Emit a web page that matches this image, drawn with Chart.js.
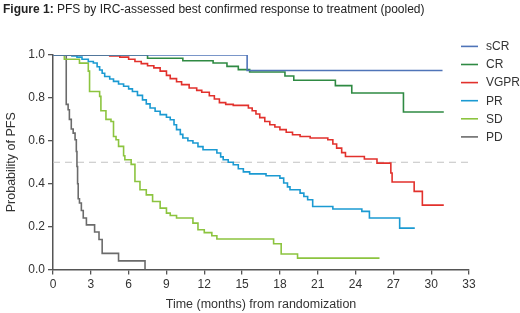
<!DOCTYPE html>
<html>
<head>
<meta charset="utf-8">
<script src="https://cdn.jsdelivr.net/npm/chart.js@4/dist/chart.umd.min.js"></script>
<style>
  html, body { margin: 0; padding: 0; background: #fff; }
  #wrap { position: relative; width: 520px; height: 313px; }
  #title {
    position: absolute; left: 3px; top: 2px;
    font: 12px "Liberation Sans", Arial, sans-serif; color: #222;
    white-space: nowrap;
  }
  canvas { position: absolute; left: 0; top: 0; }
</style>
</head>
<body>
<div id="wrap">
  <canvas id="pfsChart" width="520" height="313"></canvas>
  <div id="title"><b>Figure 1:</b> PFS by IRC-assessed best confirmed response to treatment (pooled)</div>
</div>
<script>
// Series labels and colours
const seriesLabels = ['sCR', 'CR', 'VGPR', 'PR', 'SD', 'PD']
const seriesColors = ['#4f74b8', '#2f8a43', '#e2312c', '#1b9ad2', '#8cc43f', '#6b6b6b']

// Kaplan-Meier steps (months, probability)
const sCRTimes = [0, 15.4, 30.9]
const sCRSurv = [1, 0.928, 0.928]

const crTimes = [0, 7.5, 10.3, 12.7, 13.8, 14.7, 15.6, 18.4, 19.1, 22.4, 23.7, 27.8, 31.0]
const crSurv = [1, 0.985, 0.973, 0.963, 0.947, 0.932, 0.921, 0.902, 0.882, 0.857, 0.823, 0.734, 0.734]

const vgprTimes = [0, 4.5, 5.3, 6.0, 6.5, 7.0, 7.5, 8.0, 8.5, 9.0, 9.3, 9.8, 10.2, 10.8, 11.4, 11.8, 12.4, 12.8, 13.2, 13.7, 14.3, 15.5, 15.8, 16.1, 16.4, 16.8, 17.2, 17.6, 18.0, 18.5, 19.0, 19.6, 20.4, 21.8, 22.2, 22.5, 22.9, 23.2, 24.7, 25.7, 26.8, 26.9, 28.65, 29.3, 31.0]
const vgprSurv = [1, 0.995, 0.99, 0.98, 0.97, 0.96, 0.95, 0.94, 0.925, 0.905, 0.89, 0.875, 0.862, 0.846, 0.835, 0.826, 0.81, 0.795, 0.778, 0.77, 0.765, 0.753, 0.74, 0.725, 0.708, 0.69, 0.675, 0.664, 0.652, 0.64, 0.628, 0.62, 0.613, 0.605, 0.585, 0.566, 0.545, 0.527, 0.515, 0.496, 0.45, 0.408, 0.364, 0.3, 0.3]

const prTimes = [0, 1.5, 1.9, 2.3, 2.8, 3.2, 3.5, 3.7, 3.9, 4.1, 4.5, 4.8, 5.2, 5.6, 6.0, 6.3, 6.7, 7.1, 7.4, 7.7, 8.1, 8.5, 9.0, 9.3, 9.6, 9.8, 10.1, 10.3, 10.7, 11.1, 11.5, 11.9, 13.0, 13.3, 13.5, 13.9, 14.3, 14.7, 15.1, 15.6, 16.9, 18.0, 18.3, 18.6, 18.8, 19.6, 19.9, 20.2, 20.6, 22.2, 24.5, 25.1, 27.5, 28.7]
const prSurv = [1, 0.995, 0.99, 0.98, 0.97, 0.963, 0.945, 0.93, 0.915, 0.9, 0.888, 0.877, 0.865, 0.854, 0.842, 0.83, 0.812, 0.791, 0.772, 0.753, 0.738, 0.722, 0.71, 0.698, 0.675, 0.652, 0.63, 0.613, 0.6, 0.59, 0.573, 0.558, 0.543, 0.525, 0.512, 0.5, 0.488, 0.47, 0.455, 0.446, 0.437, 0.426, 0.403, 0.385, 0.372, 0.356, 0.34, 0.325, 0.294, 0.282, 0.271, 0.24, 0.193, 0.193]

const sdTimes = [0, 0.9, 2.1, 2.8, 2.9, 3.7, 3.8, 4.2, 4.6, 4.8, 5.0, 5.2, 5.6, 5.7, 6.2, 6.5, 6.9, 7.4, 7.9, 8.5, 9.0, 9.3, 9.8, 11.1, 11.5, 12.0, 12.6, 13.0, 17.5, 18.1, 19.4, 25.9]
const sdSurv = [1, 0.98, 0.962, 0.925, 0.83, 0.807, 0.74, 0.7, 0.69, 0.62, 0.605, 0.574, 0.53, 0.512, 0.49, 0.41, 0.372, 0.348, 0.317, 0.286, 0.263, 0.252, 0.24, 0.216, 0.185, 0.172, 0.157, 0.142, 0.12, 0.072, 0.053, 0.053]

const pdTimes = [0, 1.05, 1.2, 1.3, 1.45, 1.6, 1.75, 1.85, 1.9, 1.95, 2.0, 2.1, 2.25, 2.4, 2.65, 3.3, 3.65, 3.9, 5.2, 7.3]
const pdSurv = [1, 0.77, 0.745, 0.7, 0.655, 0.636, 0.605, 0.55, 0.48, 0.4, 0.33, 0.31, 0.275, 0.24, 0.208, 0.175, 0.14, 0.075, 0.04, 0]

// Median reference line and axis ticks
const medianLevel = 0.5
const xTickValues = [0, 3, 6, 9, 12, 15, 18, 21, 24, 27, 30, 33]
const yTickValues = [0, 0.2, 0.4, 0.6, 0.8, 1.0]

const seriesTimes = [sCRTimes, crTimes, vgprTimes, prTimes, sdTimes, pdTimes]
const seriesSurv = [sCRSurv, crSurv, vgprSurv, prSurv, sdSurv, pdSurv]

const toPoints = (ts, ss) => ts.map((t, i) => ({ x: t, y: ss[i] }))

const datasets = seriesLabels.map((label, i) => ({
    label,
    data: toPoints(seriesTimes[i], seriesSurv[i]),
    borderColor: seriesColors[i],
    borderWidth: 1.6,
    pointRadius: 0,
    stepped: 'before',
    fill: false,
}))

datasets.push({
    label: 'median',
    data: [
        { x: xTickValues[0], y: medianLevel },
        { x: xTickValues[xTickValues.length - 1], y: medianLevel },
    ],
    borderColor: '#c2c2c2',
    borderWidth: 1.2,
    borderDash: [7, 5],
    pointRadius: 0,
})

const axisColor = '#555'
const textColor = '#333'
const fontFamily = '"Liberation Sans", Arial, sans-serif'

// Legend drawn at the top right, overlapping the plot like the original
const sideLegend = {
    id: 'sideLegend',
    afterDraw(chart) {
        const { ctx, chartArea } = chart
        const x0 = chartArea.right - 8
        const y0 = chartArea.top - 8.6
        ctx.save()
        ctx.font = '12px ' + fontFamily
        ctx.textBaseline = 'middle'
        seriesLabels.forEach((label, i) => {
            const y = y0 + i * 18.1
            ctx.strokeStyle = seriesColors[i]
            ctx.lineWidth = 1.6
            ctx.beginPath()
            ctx.moveTo(x0, y)
            ctx.lineTo(x0 + 17, y)
            ctx.stroke()
            ctx.fillStyle = textColor
            ctx.fillText(label, x0 + 25, y + 0.5)
        })
        ctx.restore()
    },
}

new Chart(document.getElementById('pfsChart').getContext('2d'), {
    type: 'line',
    data: { datasets },
    options: {
        responsive: false,
        animation: false,
        devicePixelRatio: 1,
        layout: { padding: { top: 55, right: 51, bottom: 0, left: 0 } },
        plugins: { legend: { display: false }, tooltip: { enabled: false } },
        scales: {
            x: {
                type: 'linear',
                min: 0,
                max: 33,
                afterBuildTicks: (scale) => { scale.ticks = xTickValues.map(v => ({ value: v })) },
                afterFit: (scale) => { scale.height = 43.5 },
                ticks: { color: textColor, font: { size: 12, family: fontFamily }, padding: 3, maxRotation: 0 },
                grid: { drawOnChartArea: false, tickLength: 5, color: axisColor, lineWidth: 1.3 },
                border: { color: axisColor, width: 1.5 },
                title: { display: true, text: 'Time (months) from randomization', color: textColor, padding: { top: 4, bottom: 1 }, font: { size: 12.5, family: fontFamily } },
            },
            y: {
                min: 0,
                max: 1,
                afterBuildTicks: (scale) => { scale.ticks = yTickValues.map(v => ({ value: v })) },
                afterFit: (scale) => { scale.width = 53 },
                ticks: { color: textColor, font: { size: 12, family: fontFamily }, padding: 3, callback: (v) => v.toFixed(1) },
                grid: { drawOnChartArea: false, tickLength: 5, color: axisColor, lineWidth: 1.3 },
                border: { color: axisColor, width: 1.5 },
                title: { display: true, text: 'Probability of PFS', color: textColor, font: { size: 12.5, family: fontFamily } },
            },
        },
    },
    plugins: [sideLegend],
})
</script>
</body>
</html>
